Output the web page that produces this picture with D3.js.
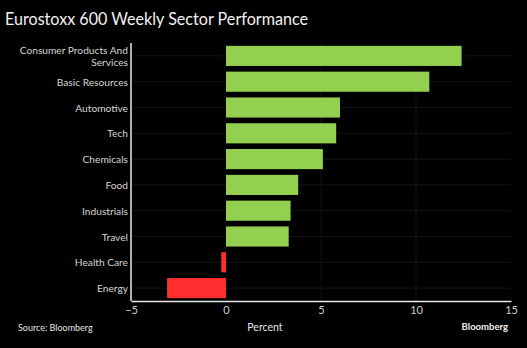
<!DOCTYPE html>
<html>
<head>
<meta charset="utf-8">
<script src="https://cdn.jsdelivr.net/npm/d3@7"></script>
<style>
  html, body { margin: 0; padding: 0; background: #000; }
  svg { display: block; font-family: Lato, "Open Sans", sans-serif; }
</style>
</head>
<body>
<div id="chart"></div>
<script>
// Weekly sector moves, percent
var sectors = ["Consumer Products And|Services", "Basic Resources", "Automotive", "Tech",
    "Chemicals", "Food", "Industrials", "Travel", "Health Care", "Energy"];
var changes = [12.4, 10.7, 6.0, 5.8, 5.1, 3.8, 3.4, 3.3, -0.25, -3.1];
var xTicks = [-5, 0, 5, 10, 15];

var width = 527,
    height = 348;
var margin = { top: 43, right: 16, bottom: 47, left: 131 };

var svg = d3.select("#chart")
    .append("svg")
    .attr("width", width)
    .attr("height", height);

svg.append("rect")
    .attr("width", width)
    .attr("height", height)
    .attr("fill", "#000");

var x = d3.scaleLinear()
    .domain([-5, 15])
    .range([margin.left, width - margin.right]);

var y = d3.scaleBand()
    .domain(sectors)
    .range([margin.top, height - margin.bottom])
    .paddingInner(0.22)
    .paddingOuter(0.11);

// faint grid
svg.append("g")
    .selectAll("line")
    .data(xTicks.filter(d => d > 0 && d < 15))
    .join("line")
    .attr("x1", d => x(d))
    .attr("x2", d => x(d))
    .attr("y1", margin.top)
    .attr("y2", height - margin.bottom)
    .attr("stroke", "#121212")
    .attr("stroke-width", 1);

svg.append("g")
    .selectAll("line")
    .data(sectors)
    .join("line")
    .attr("x1", margin.left)
    .attr("x2", width - margin.right)
    .attr("y1", d => y(d) + y.bandwidth() / 2)
    .attr("y2", d => y(d) + y.bandwidth() / 2)
    .attr("stroke", "#141414")
    .attr("stroke-width", 1);

// bars
svg.append("g")
    .selectAll("rect")
    .data(changes)
    .join("rect")
    .attr("x", d => x(Math.min(0, d)))
    .attr("y", (d, i) => y(sectors[i]))
    .attr("width", d => Math.abs(x(d) - x(0)))
    .attr("height", y.bandwidth())
    .attr("fill", d => d >= 0 ? "#93d04f" : "#fe2e2e");

// axes
var xAxis = svg.append("g")
    .attr("transform", "translate(0," + (height - margin.bottom) + ")")
    .call(d3.axisBottom(x).tickValues(xTicks).tickSize(0).tickPadding(5)
        .tickFormat(d => d < 0 ? "\u2212" + Math.abs(d) : d));
xAxis.select(".domain").attr("stroke", "#e8e8e8").attr("stroke-width", 1.5);
xAxis.selectAll("text")
    .attr("fill", "#cfcfcf")
    .style("font-size", "11px")
    .style("font-family", "Lato, sans-serif");

svg.append("line")
    .attr("x1", margin.left)
    .attr("x2", margin.left)
    .attr("y1", margin.top)
    .attr("y2", height - margin.bottom)
    .attr("stroke", "#e8e8e8")
    .attr("stroke-width", 1.5);

// category labels, split on "|" into two lines
var labels = svg.append("g")
    .selectAll("text")
    .data(sectors)
    .join("text")
    .attr("x", margin.left - 3)
    .attr("text-anchor", "end")
    .attr("fill", "#d6d6d6")
    .style("font-size", "10.2px");

labels.each(function (d) {
    var parts = d.split("|");
    var cy = y(d) + y.bandwidth() / 2;
    var t = d3.select(this);
    parts.forEach(function (p, i) {
        t.append("tspan")
            .attr("x", margin.left - 3)
            .attr("y", cy + 4 + (i - (parts.length - 1) / 2) * 12)
            .text(p);
    });
});

// title and footer
svg.append("text")
    .attr("x", 5)
    .attr("y", 25)
    .attr("fill", "#f2f2f2")
    .style("font-size", "17px")
    .attr("textLength", 303)
    .attr("lengthAdjust", "spacingAndGlyphs")
    .text("Eurostoxx 600 Weekly Sector Performance");

svg.append("text")
    .attr("x", 18)
    .attr("y", 331)
    .attr("fill", "#e6e6e6")
    .style("font-size", "9px")
    .text("Source: Bloomberg");

svg.append("text")
    .attr("x", x(2.05))
    .attr("y", 331)
    .attr("text-anchor", "middle")
    .attr("fill", "#e6e6e6")
    .style("font-size", "10.5px")
    .text("Percent");

svg.append("text")
    .attr("x", 508)
    .attr("y", 330)
    .attr("text-anchor", "end")
    .attr("fill", "#f2f2f2")
    .style("font-size", "9.5px")
    .style("font-weight", "bold")
    .text("Bloomberg");
</script>
</body>
</html>
